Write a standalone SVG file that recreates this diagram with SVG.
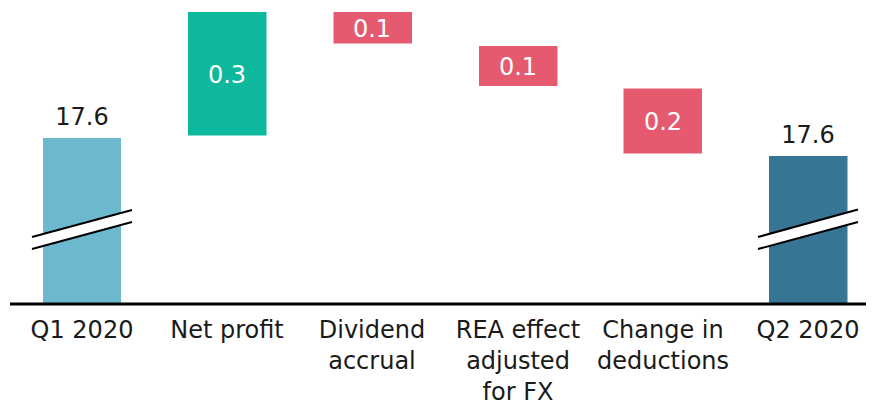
<svg xmlns="http://www.w3.org/2000/svg" width="875" height="405" viewBox="0 0 875 405">
<style>
text{font-family:"DejaVu Sans","Liberation Sans",sans-serif;font-size:24px;text-anchor:middle;fill:#1a1a1a}
.w{fill:#ffffff}
.brk{fill:#ffffff;stroke:none}
.bl{stroke:#000;stroke-width:2;fill:none}
.axis{stroke:#000;stroke-width:3}
</style>
<rect width="875" height="405" fill="#fff"/>
<g id="bar-q1">
<rect x="43" y="138" width="78" height="166" fill="#6CB9CE"/>
<polygon class="brk" points="32,237 132,210 132,222 32,249"/>
<line class="bl" x1="32" y1="237" x2="132" y2="210"/>
<line class="bl" x1="32" y1="249" x2="132" y2="222"/>
<text x="82" y="125">17.6</text>
</g>
<g id="bar-netprofit">
<rect x="188" y="12" width="78.5" height="123.5" fill="#0DB89C"/>
<text class="w" x="227" y="83">0.3</text>
</g>
<g id="bar-dividend">
<rect x="333.5" y="12" width="78.5" height="31.5" fill="#E55A6E"/>
<text class="w" x="372" y="37">0.1</text>
</g>
<g id="bar-rea">
<rect x="479" y="46" width="78.5" height="40" fill="#E55A6E"/>
<text class="w" x="518" y="75">0.1</text>
</g>
<g id="bar-deductions">
<rect x="623.5" y="88.5" width="78.5" height="65" fill="#E55A6E"/>
<text class="w" x="663" y="130">0.2</text>
</g>
<g id="bar-q2">
<rect x="769" y="156" width="78.5" height="148" fill="#377595"/>
<polygon class="brk" points="758,237 858,209.5 858,222 758,249"/>
<line class="bl" x1="758" y1="237" x2="858" y2="209.5"/>
<line class="bl" x1="758" y1="249" x2="858" y2="222"/>
<text x="808" y="143">17.6</text>
</g>
<g id="connectors">
<line class="axis" x1="10" y1="304" x2="866" y2="304"/>
</g>
<g id="labels">
<text x="82" y="338">Q1 2020</text>
<text x="227" y="338">Net profit</text>
<text x="372" y="338">Dividend</text>
<text x="372" y="369">accrual</text>
<text x="518" y="338">REA effect</text>
<text x="518" y="369">adjusted</text>
<text x="518" y="400">for FX</text>
<text x="663" y="338">Change in</text>
<text x="663" y="369">deductions</text>
<text x="808" y="338">Q2 2020</text>
</g>
</svg>
